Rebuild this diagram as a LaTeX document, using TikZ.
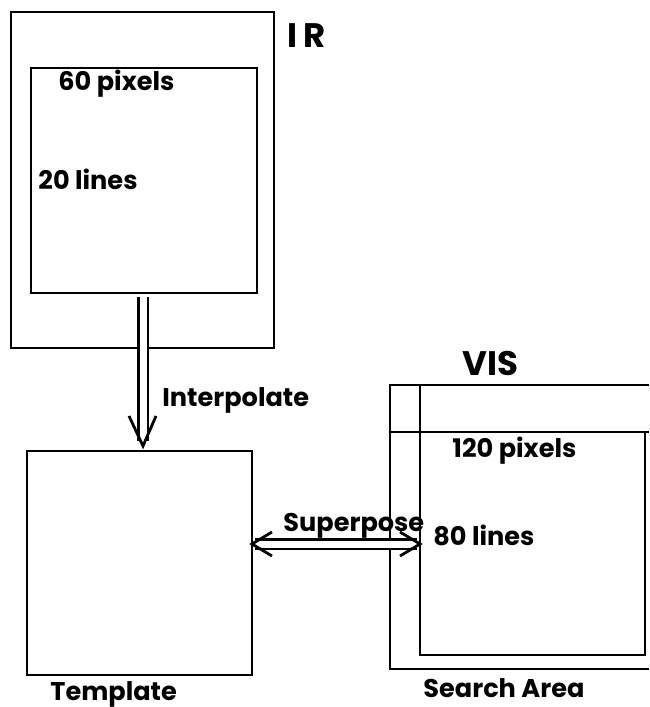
\documentclass[tikz,border=0pt]{standalone}
\usepackage{fontspec}
\setmainfont{Poppins}
\usepackage{tikz}
\usetikzlibrary{calc}
\tikzset{
  box/.style={draw,line width=1.4pt,inner sep=0pt,outer sep=0pt},
  frame/.style={line width=1.4pt},
  lbl/.style={font=\bfseries\fontsize{12.8}{14}\selectfont,inner sep=0pt,anchor=base west},
  ttl/.style={font=\bfseries\fontsize{17}{19}\selectfont,inner sep=0pt,anchor=base west},
  dbl/.style={double,double distance=3.5pt,line width=1.4pt},
  head/.style={line width=1.4pt,line join=miter},
}

\begin{document}
\begin{tikzpicture}[x=0.5pt,y=-0.5pt]
\useasboundingbox (0,0) rectangle (649,707);
% IR image with its window
\node[box,minimum width=131.5pt,minimum height=168pt] (irout) at (142.5,180) {};
\node[box,minimum width=113pt,minimum height=112.5pt] (irin) at (144,180.5) {};
\node[ttl] (irlbl) at (287,47) {I\,R};
\node[lbl] (irpix) at (58,90) {60 pixels};
\node[lbl] (irlin) at (38,189) {20 lines};
% template
\node[box,minimum width=112.5pt,minimum height=112pt] (tmpl) at (139.5,563) {};
\node[lbl] (tmpllbl) at (50,700) {Template};
% VIS image and search area
\node[box,minimum width=112.5pt,minimum height=111.5pt] (visin) at (532.5,543.5) {};
\coordinate (vistop) at (0,385);
\draw[frame] (649,385) -| (390,669) -- (649,669);
\draw[frame] (visin.north west) -- (visin.north west |- vistop);
\draw[frame] (390,432) -- (649,432);
\node[ttl] (vislbl) at (462,375) {VIS};
\node[lbl] (vispix) at (452,457) {120 pixels};
\node[lbl] (vislin) at (433,545) {80 lines};
\node[lbl] (srchlbl) at (423,697) {Search Area};
% interpolate arrow
\coordinate (itop) at ($(irin.south)+(-1,4)$);
\coordinate (itip) at ($(tmpl.north)+(3.5,-5)$);
\draw[dbl] (itop) -- ($(itip)+(0,-5)$);
\draw[head] ($(itip)+(-14,-30)$) -- (itip) -- ($(itip)+(13,-30)$);
\node[lbl] (interp) at (162,406) {Interpolate};
% superpose arrow
\coordinate (supy) at (0,544);
\coordinate (sl) at (tmpl.east |- supy);
\coordinate (sr) at (visin.west |- supy);
\draw[dbl] ($(sl)+(3,0)$) -- ($(sr)+(-3,0)$);
\draw[head] ($(sl)+(20,-12)$) -- (sl) -- ($(sl)+(20,12)$);
\draw[head] ($(sr)+(-20,-12)$) -- (sr) -- ($(sr)+(-20,12)$);
\node[lbl] (suplbl) at (283,531) {Superpose};
\end{tikzpicture}
\end{document}
